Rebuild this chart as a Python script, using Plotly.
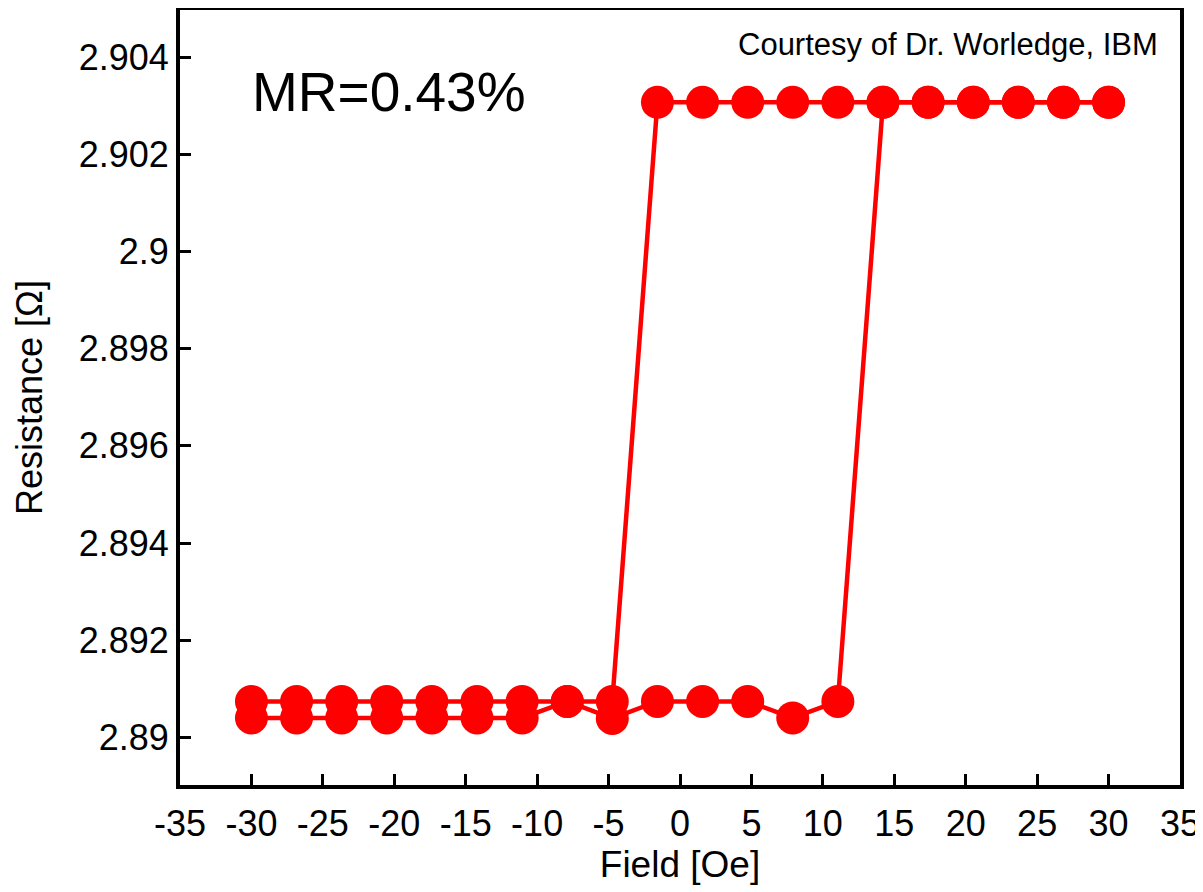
import plotly.graph_objects as go

# Descending sweep (+30 -> -30 Oe)
field_down = [30.0, 26.84, 23.68, 20.53, 17.37, 14.21, 11.05, 7.89, 4.74, 1.58,
              -1.58, -4.74, -7.89, -11.05, -14.21, -17.37, -20.53, -23.68, -26.84, -30.0]
res_down = [2.90307, 2.90307, 2.90307, 2.90307, 2.90307, 2.90307, 2.90307, 2.90307, 2.90307, 2.90307,
            2.90307, 2.89074, 2.89074, 2.89074, 2.89074, 2.89074, 2.89074, 2.89074, 2.89074, 2.89074]

# Ascending sweep (-30 -> +30 Oe)
field_up = [-30.0, -26.84, -23.68, -20.53, -17.37, -14.21, -11.05, -7.89, -4.74, -1.58,
            1.58, 4.74, 7.89, 11.05, 14.21, 17.37, 20.53, 23.68, 26.84, 30.0]
res_up = [2.89040, 2.89040, 2.89040, 2.89040, 2.89040, 2.89040, 2.89040, 2.89074, 2.89039, 2.89074,
          2.89074, 2.89074, 2.89040, 2.89074, 2.90307, 2.90307, 2.90307, 2.90307, 2.90307, 2.90307]

x_ticks = [-35, -30, -25, -20, -15, -10, -5, 0, 5, 10, 15, 20, 25, 30, 35]
y_ticks = [2.89, 2.892, 2.894, 2.896, 2.898, 2.9, 2.902, 2.904]
y_tick_text = ["2.89", "2.892", "2.894", "2.896", "2.898", "2.9", "2.902", "2.904"]

RED = "#ff0000"
FONT = "Liberation Sans, Arial, Helvetica, sans-serif"

fig = go.Figure()
for xs, ys in [(field_down, res_down), (field_up, res_up)]:
    fig.add_trace(go.Scatter(
        x=xs, y=ys, mode="lines+markers",
        line=dict(color=RED, width=4.5),
        marker=dict(color=RED, size=33, line=dict(width=0)),
        showlegend=False, cliponaxis=False,
    ))

fig.add_annotation(text="MR=0.43%", xref="paper", yref="paper", x=0.07, y=0.894,
                   xanchor="left", yanchor="middle", showarrow=False,
                   font=dict(family=FONT, size=55, color="black"))
fig.add_annotation(text="Courtesy of Dr. Worledge, IBM", xref="paper", yref="paper",
                   x=0.98, y=0.956, xanchor="right", yanchor="middle", showarrow=False,
                   font=dict(family=FONT, size=31, color="black"))

fig.update_layout(
    width=1195, height=884,
    margin=dict(l=172, r=23, t=2, b=107),
    paper_bgcolor="white", plot_bgcolor="white",
    font=dict(family=FONT, size=36, color="black"),
    xaxis=dict(
        range=[-35, 35], tickvals=x_ticks, ticktext=[str(v) for v in x_ticks],
        showgrid=False, zeroline=False, automargin=False,
        showline=True, linecolor="black", linewidth=4, mirror=True,
        ticks="inside", ticklen=11, tickwidth=3, tickcolor="black",
        tickfont=dict(family=FONT, size=36), ticklabelstandoff=4,
        title=dict(text="Field [Oe]", font=dict(family=FONT, size=37), standoff=8),
    ),
    yaxis=dict(
        range=[2.88902, 2.90497], tickvals=y_ticks, ticktext=y_tick_text,
        showgrid=False, zeroline=False, automargin=False,
        showline=True, linecolor="black", linewidth=4, mirror=True,
        ticks="inside", ticklen=11, tickwidth=3, tickcolor="black",
        tickfont=dict(family=FONT, size=36),
        title=dict(text="Resistance [Ω]", font=dict(family=FONT, size=36), standoff=26),
    ),
)

fig.write_html("out.html")
